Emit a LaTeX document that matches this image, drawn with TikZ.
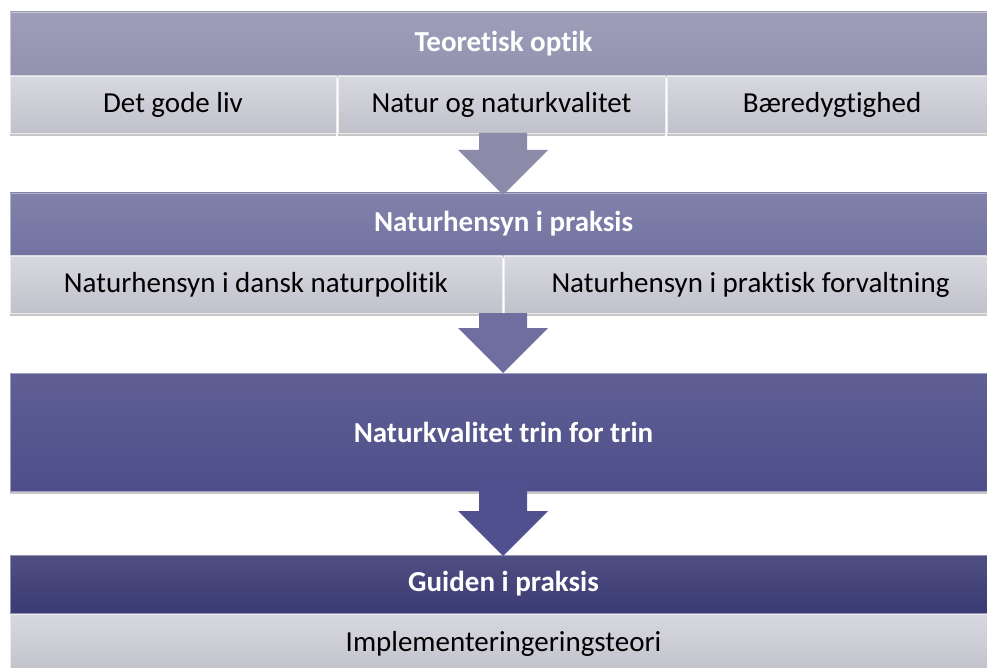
\documentclass[tikz,border=0pt]{standalone}
\usepackage{fontspec}
\setmainfont{Carlito}[Ligatures=NoCommon]
\usetikzlibrary{calc,shadows}

\definecolor{hdA}{HTML}{9393B1}
\definecolor{hdB}{HTML}{7373A1}
\definecolor{hdC}{HTML}{4E4E8A}
\definecolor{hdD}{HTML}{3B3B74}
\definecolor{subtop}{HTML}{D8D8E0}
\definecolor{subbot}{HTML}{C1C1CB}
\definecolor{arrA}{HTML}{8B8BA9}
\definecolor{arrB}{HTML}{6E6E9F}
\definecolor{arrC}{HTML}{50508E}

\begin{document}
\begin{tikzpicture}[x=1pt,y=-1pt,
    box/.style={rectangle,anchor=north west,inner sep=0pt,outer sep=0pt,
        drop shadow={shadow xshift=0pt,shadow yshift=-3pt,fill=black,opacity=0.22}},
    headbox/.style={box,text=white,font=\fontsize{29}{33}\selectfont\bfseries,
        top color=#1!90!white,bottom color=#1,draw=#1!55!white,line width=0.8pt},
    subbox/.style={box,font=\fontsize{29}{33}\selectfont,
        top color=subtop,bottom color=subbot,draw=white!70!subbot,line width=0.8pt},
    flow/.style={fill=#1,to path={let \p1=(\tikztostart), \p2=(\tikztotarget) in
        (\x1-24pt,\y1) -- (\x1+24pt,\y1) -- (\x1+24pt,\y2+45pt) -- (\x1+45pt,\y2+45pt)
        -- (\x1,\y2) -- (\x1-45pt,\y2+45pt) -- (\x1-24pt,\y2+45pt) -- cycle}}]
        \useasboundingbox (0,0) rectangle (987,668);
        \coordinate (ax) at (503,0);

        % Teoretisk optik
        \node[headbox=hdA,minimum width=987pt,minimum height=63pt] (to) at (10,12) {Teoretisk optik};
        \node[subbox,minimum width=326pt,minimum height=57pt] (dgl) at (10,76) {Det gode liv};
        \node[subbox,minimum width=327pt,minimum height=57pt] (nog) at (338,76) {Natur og naturkvalitet};
        \node[subbox,minimum width=330pt,minimum height=57pt] (bae) at (667,76) {Bæredygtighed};

        % Naturhensyn i praksis
        \node[headbox=hdB,minimum width=987pt,minimum height=62pt] (nip) at (10,193) {Naturhensyn i praksis};
        \node[subbox,minimum width=492pt,minimum height=57pt] (ndn) at (10,256) {Naturhensyn i dansk naturpolitik};
        \node[subbox,minimum width=493pt,minimum height=57pt] (npf) at (504,256) {Naturhensyn i praktisk forvaltning};

        % Naturkvalitet trin for trin
        \node[headbox=hdC,minimum width=987pt,minimum height=118pt] (ntt) at (10,373) {Naturkvalitet trin for trin};

        % Guiden i praksis
        \node[headbox=hdD,minimum width=987pt,minimum height=58pt] (gip) at (10,555) {Guiden i praksis};
        \node[subbox,minimum width=987pt,minimum height=60pt] (imp) at (10,614) {Implementeringeringsteori};

        \path [flow=arrA] (nog.south -| ax) to ([yshift=-2pt]nip.north -| ax);
        \path [flow=arrB] (ndn.south -| ax) to (ntt.north -| ax);
        \path [flow=arrC] ([yshift=16pt]ntt.south -| ax) to ([yshift=-1pt]gip.north -| ax);
    \end{tikzpicture}
\end{document}
